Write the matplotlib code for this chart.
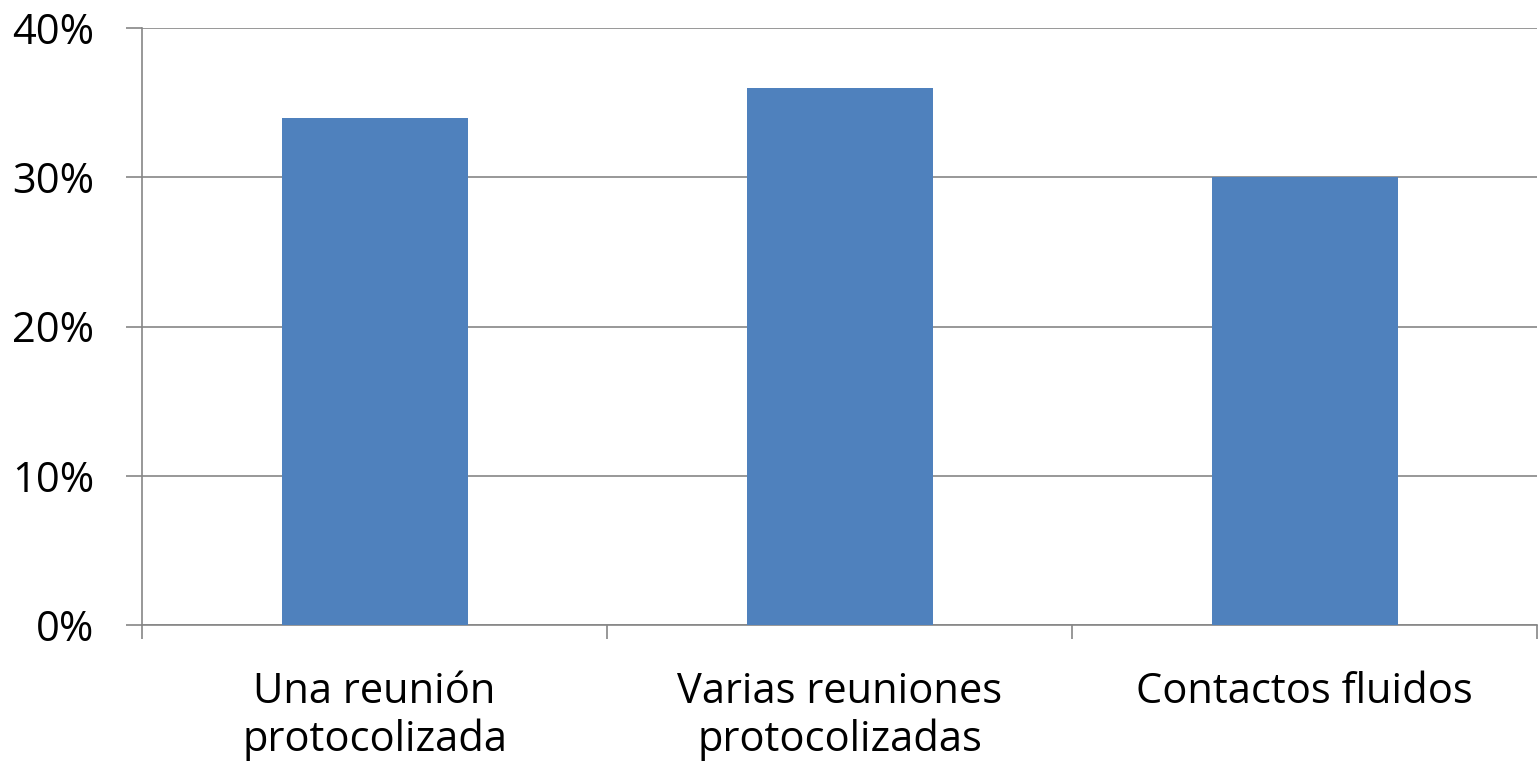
import matplotlib
matplotlib.use('Agg')
from matplotlib import pyplot as plt
from matplotlib.ticker import FuncFormatter, FixedLocator
import numpy as np

categories = ['Una reunión\nprotocolizada', 'Varias reuniones\nprotocolizadas', 'Contactos fluidos']
values = [0.34, 0.36, 0.30]
y_ticks = [0.0, 0.1, 0.2, 0.3, 0.4]

plt.rcParams['font.family'] = ['Open Sans', 'DejaVu Sans']

fig = plt.figure(figsize=(15.38, 7.67), dpi=100)
ax = fig.add_axes([142 / 1538, 1 - 625 / 767, 1 - 142 / 1538 - 1 / 1538, (625 - 28) / 767])

x = np.arange(len(categories))
ax.bar(x, values, width=0.4, color='#4F81BD', zorder=3)

ax.set_xlim(-0.5, len(categories) - 0.5)
ax.set_ylim(0, 0.4)
ax.set_yticks(y_ticks)
ax.yaxis.set_major_formatter(FuncFormatter(lambda v, p: f'{v * 100:.0f}%'))
ax.grid(axis='y', color='#868686', linewidth=1.2, zorder=0)

ax.set_xticks(x)
ax.set_xticklabels(categories, fontsize=30, linespacing=1.18)
ax.xaxis.set_minor_locator(FixedLocator(np.arange(len(categories) + 1) - 0.5))
ax.tick_params(axis='x', which='major', length=0, pad=33)
ax.tick_params(axis='x', which='minor', length=10, width=1.2, color='#868686')
ax.tick_params(axis='y', length=11.5, width=1.2, color='#868686', labelsize=30, pad=23)

for side in ['top', 'right']:
    ax.spines[side].set_visible(False)
for side in ['left', 'bottom']:
    ax.spines[side].set_color('#868686')
    ax.spines[side].set_linewidth(1.2)

fig.savefig('out.png', dpi=100)
